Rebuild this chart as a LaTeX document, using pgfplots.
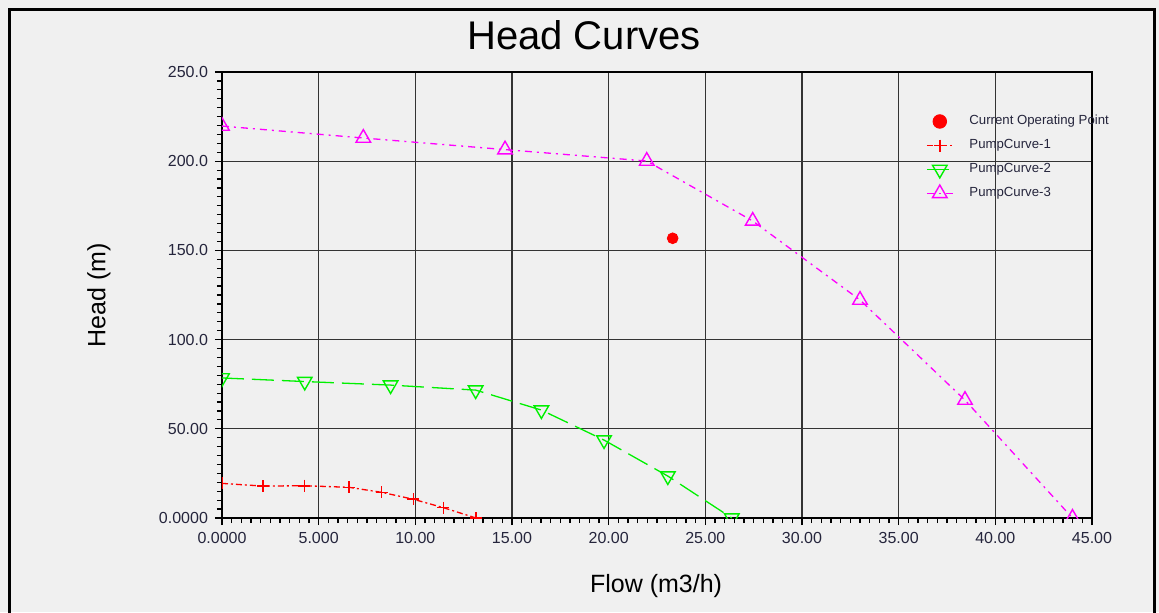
\documentclass[border=0pt]{standalone}
\usepackage{pgfplots}
\pgfplotsset{compat=1.18}
\usepackage{fontspec}
\setmainfont{Liberation Sans}
\definecolor{bg}{HTML}{F0F0F0}
\definecolor{lbl}{HTML}{25253C}
\definecolor{pred}{HTML}{FF0000}
\definecolor{pgreen}{HTML}{00F000}
\definecolor{pmag}{HTML}{FF00FF}
\pgfplotsset{
  linelegend/.style={legend image code/.code={\draw[mark repeat=2,mark phase=2,##1] plot coordinates {(0pt,0pt) (6.5pt,0pt) (13pt,0pt)};}},
  oplegend/.style={legend image code/.code={\draw[##1,only marks,mark size=3.4pt] plot coordinates {(6.5pt,0pt)};}},
}
\begin{document}
\begin{tikzpicture}
\fill[bg] (-111pt,-47pt) rectangle (468.5pt,259pt);
\path[use as bounding box] (-111pt,-47pt) rectangle (468.5pt,259pt);
\draw[line width=1.5pt] (-106pt,-60pt) -- (-106pt,254pt) -- (466pt,254pt) -- (466pt,-60pt);
\begin{axis}[
  at={(0pt,0pt)}, anchor=south west,
  scale only axis, width=435pt, height=223pt,
  xmin=0, xmax=45, ymin=0, ymax=250,
  xtick={0,5,...,45},
  xticklabels={0.0000,5.000,10.00,15.00,20.00,25.00,30.00,35.00,40.00,45.00},
  ytick={0,50,...,250},
  yticklabels={0.0000,50.00,100.0,150.0,200.0,250.0},
  minor x tick num=9, minor y tick num=9,
  tick pos=left, tick align=outside,
  major tick length=3.5pt, minor tick length=2.5pt,
  every tick/.style={black, line width=0.6pt},
  grid=major, major grid style={black!80, line width=0.6pt},
  axis line style={line width=0.9pt},
  tick label style={font=\fontsize{8}{9}\selectfont, text=lbl},
  every axis title shift=0pt,
  title={Head Curves},
  title style={font=\fontsize{20}{24}\selectfont, at={(axis description cs:0.416,1.083)}, anchor=center},
  xlabel={Flow (m3/h)},
  xlabel style={font=\fontsize{12.5}{15}\selectfont, at={(axis description cs:0.499,-0.153)}, anchor=center},
  ylabel={Head (m)},
  ylabel style={font=\fontsize{12.5}{15}\selectfont, at={(axis description cs:-0.1414,0.5)}, anchor=center},
  clip marker paths=true,
  legend style={at={(axis description cs:0.802,0.922)}, anchor=north west, draw=none, fill=none,
    font=\fontsize{6.6}{8}\selectfont, row sep=1.85pt, column sep=6pt,
    nodes={text=lbl}},
  legend cell align=left,
  linelegend,
]
\addplot[only marks, mark=*, mark size=2.7pt, color=pred, oplegend]
  coordinates {(23.31,156.8)};
\addlegendentry{Current Operating Point}

\addplot[color=pred, draw=pred, line width=0.65pt, dash pattern=on 3pt off 1.5pt on 1pt off 1.5pt,
  mark=+, mark size=3pt, mark options={solid, draw=pred, line width=0.8pt}]
  coordinates {(0,19.4) (2.12,17.9) (4.26,18.1) (6.57,17.2) (8.26,14.4) (9.9,10.5) (11.45,5.8) (13.14,0)};
\addlegendentry{PumpCurve-1}

\addplot[color=pgreen, draw=pgreen, line width=0.65pt, dash pattern=on 11pt off 4pt,
  mark=triangle, mark size=4.2pt, mark options={solid, rotate=180, line width=0.7pt}]
  coordinates {(0,78.5) (4.28,76.5) (8.72,74.5) (13.12,71.7) (16.52,60.5) (19.76,43.7) (23.06,23.5) (26.37,0)};
\addlegendentry{PumpCurve-2}

\addplot[color=pmag, draw=pmag, line width=0.65pt, dash pattern=on 3.5pt off 2.5pt on 1pt off 2.5pt,
  mark=triangle, mark size=4.2pt, mark options={solid, line width=0.7pt}]
  coordinates {(0,219.7) (7.31,213) (14.64,206.5) (21.97,200.1) (27.45,166.5) (33.0,122.2) (38.43,66.1) (43.99,0)};
\addlegendentry{PumpCurve-3}
\end{axis}
\end{tikzpicture}
\end{document}
